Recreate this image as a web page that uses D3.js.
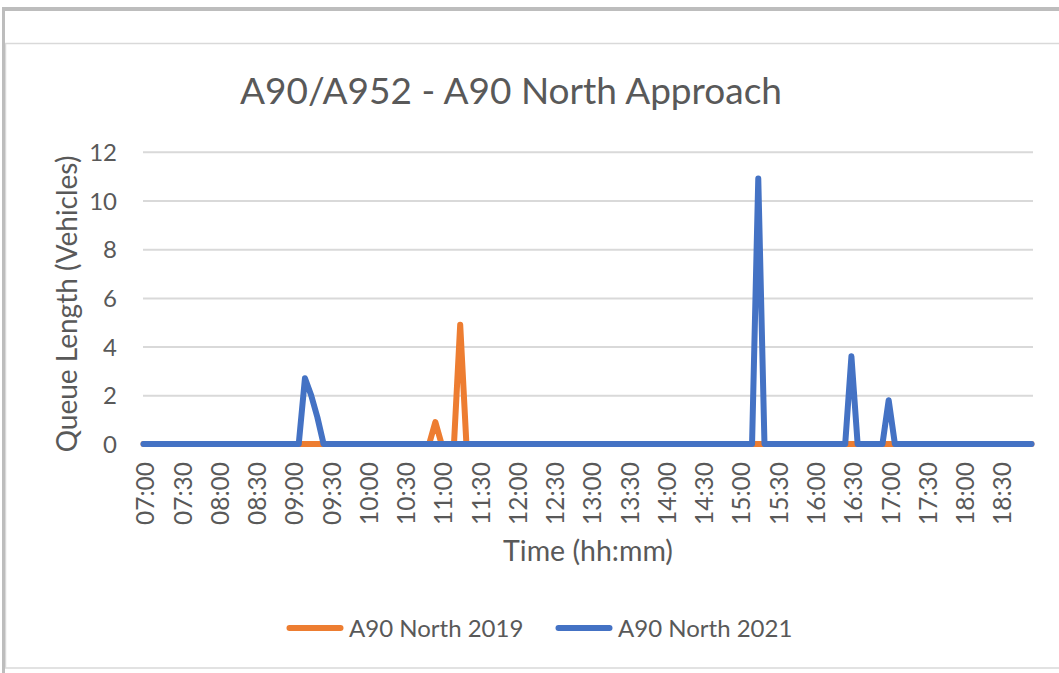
<!DOCTYPE html>
<html><head><meta charset="utf-8">
<script src="https://cdn.jsdelivr.net/npm/d3@7"></script>
<style>
body{margin:0;background:#fff}
svg{display:block}
text{font-family:Lato,"Noto Sans",sans-serif;fill:#595959}
</style>
</head><body>
<svg id="c" width="1059" height="673"></svg>
<script>
const times = [
"07:00","07:05","07:10","07:15","07:20","07:25","07:30","07:35","07:40","07:45","07:50","07:55",
"08:00","08:05","08:10","08:15","08:20","08:25","08:30","08:35","08:40","08:45","08:50","08:55",
"09:00","09:05","09:10","09:15","09:20","09:25","09:30","09:35","09:40","09:45","09:50","09:55",
"10:00","10:05","10:10","10:15","10:20","10:25","10:30","10:35","10:40","10:45","10:50","10:55",
"11:00","11:05","11:10","11:15","11:20","11:25","11:30","11:35","11:40","11:45","11:50","11:55",
"12:00","12:05","12:10","12:15","12:20","12:25","12:30","12:35","12:40","12:45","12:50","12:55",
"13:00","13:05","13:10","13:15","13:20","13:25","13:30","13:35","13:40","13:45","13:50","13:55",
"14:00","14:05","14:10","14:15","14:20","14:25","14:30","14:35","14:40","14:45","14:50","14:55",
"15:00","15:05","15:10","15:15","15:20","15:25","15:30","15:35","15:40","15:45","15:50","15:55",
"16:00","16:05","16:10","16:15","16:20","16:25","16:30","16:35","16:40","16:45","16:50","16:55",
"17:00","17:05","17:10","17:15","17:20","17:25","17:30","17:35","17:40","17:45","17:50","17:55",
"18:00","18:05","18:10","18:15","18:20","18:25","18:30","18:35","18:40","18:45","18:50","18:55"
];
const tickLabels = ["07:00","07:30","08:00","08:30","09:00","09:30","10:00","10:30","11:00","11:30",
"12:00","12:30","13:00","13:30","14:00","14:30","15:00","15:30","16:00","16:30","17:00","17:30","18:00","18:30"];
const yTicks = [0,2,4,6,8,10,12];
const series2019 = [
0,0,0,0,0,0,0,0,0,0,0,0,
0,0,0,0,0,0,0,0,0,0,0,0,
0,0,0,0,0,0,0,0,0,0,0,0,
0,0,0,0,0,0,0,0,0,0,0,0.9,
0,0,0,4.9,0,0,0,0,0,0,0,0,
0,0,0,0,0,0,0,0,0,0,0,0,
0,0,0,0,0,0,0,0,0,0,0,0,
0,0,0,0,0,0,0,0,0,0,0,0,
0,0,0,0,0,0,0,0,0,0,0,0,
0,0,0,0,0,0,0,0,0,0,0,0,
0,0,0,0,0,0,0,0,0,0,0,0,
0,0,0,0,0,0,0,0,0,0,0,0
];
const series2021 = [
0,0,0,0,0,0,0,0,0,0,0,0,
0,0,0,0,0,0,0,0,0,0,0,0,
0,0,2.7,2.0,1.1,0,0,0,0,0,0,0,
0,0,0,0,0,0,0,0,0,0,0,0,
0,0,0,0,0,0,0,0,0,0,0,0,
0,0,0,0,0,0,0,0,0,0,0,0,
0,0,0,0,0,0,0,0,0,0,0,0,
0,0,0,0,0,0,0,0,0,0,0,0,
0,0,0,10.9,0,0,0,0,0,0,0,0,
0,0,0,0,0,0,3.6,0,0,0,0,0,
1.8,0,0,0,0,0,0,0,0,0,0,0,
0,0,0,0,0,0,0,0,0,0,0,0
];
const seriesNames = ["A90 North 2019","A90 North 2021"];
const seriesColors = ["#ED7D31","#4472C4"];
const titleText = "A90/A952 - A90 North Approach";
const yTitle = "Queue Length (Vehicles)";
const xTitle = "Time (hh:mm)";

const svg = d3.select("#c");

// frame
svg.append("rect").attr("x",5.5).attr("y",43.5).attr("width",1070).attr("height",624.5)
  .attr("fill","#fff").attr("stroke","#d9d9d9").attr("stroke-width",1.5);
svg.append("rect").attr("x",2).attr("y",7).attr("width",1057).attr("height",4).attr("fill","#bdbdbd");
svg.append("rect").attr("x",2).attr("y",7).attr("width",3).attr("height",666).attr("fill","#bdbdbd");

const x = d3.scalePoint().domain(times).range([143.5, 1031.5]);
const y = d3.scaleLinear().domain([0,12]).range([444, 151.8]);

// gridlines
const grid = svg.append("g").attr("transform","translate(143,0)")
  .call(d3.axisLeft(y).tickValues(yTicks.filter(v=>v>0)).tickSize(-890).tickFormat(""));
grid.select(".domain").remove();
grid.selectAll("line").attr("stroke","#d9d9d9").attr("stroke-width",2);

// y axis labels
const ya = svg.append("g").attr("transform","translate(117,0)")
  .call(d3.axisLeft(y).tickValues(yTicks).tickSize(0).tickPadding(0));
ya.select(".domain").remove();
ya.selectAll("text").attr("font-size",24).attr("fill","#595959").attr("font-family","Lato")
  .attr("dy","0.36em");

// x axis
const xa = svg.append("g").attr("transform","translate(0,444)")
  .call(d3.axisBottom(x).tickValues(tickLabels).tickSize(0).tickPadding(0));
xa.select(".domain").attr("stroke","#d9d9d9").attr("stroke-width",1.5);
xa.selectAll("text").attr("font-size",24.5).attr("fill","#595959").attr("font-family","Lato")
  .attr("text-anchor","end")
  .attr("transform","translate(1.5,18) rotate(-90)")
  .attr("x",0).attr("y",0).attr("dy","0.36em");

// lines
const line = d3.line().x((d,i)=>x(times[i])).y(d=>y(d));
[series2019, series2021].forEach((s,k)=>{
  svg.append("path").datum(s).attr("d",line).attr("fill","none")
    .attr("stroke",seriesColors[k]).attr("stroke-width",6)
    .attr("stroke-linejoin","round").attr("stroke-linecap","round");
});

// titles
svg.append("text").attr("x",511).attr("y",104).attr("text-anchor","middle")
  .attr("font-size",37).text(titleText);
svg.append("text").attr("transform","translate(77,304) rotate(-90)").attr("text-anchor","middle")
  .attr("font-size",28).text(yTitle);
svg.append("text").attr("x",588).attr("y",561).attr("text-anchor","middle")
  .attr("font-size",28.5).text(xTitle);

// legend
const legX = [287, 556];
seriesNames.forEach((n,k)=>{
  const g = svg.append("g").attr("transform",`translate(${legX[k]},628)`);
  g.append("line").attr("x1",2.5).attr("x2",53.5).attr("y1",0).attr("y2",0)
    .attr("stroke",seriesColors[k]).attr("stroke-width",6).attr("stroke-linecap","round");
  g.append("text").attr("x",62).attr("y",0).attr("dy","0.36em").attr("font-size",24).text(n);
});
</script>
</body></html>
